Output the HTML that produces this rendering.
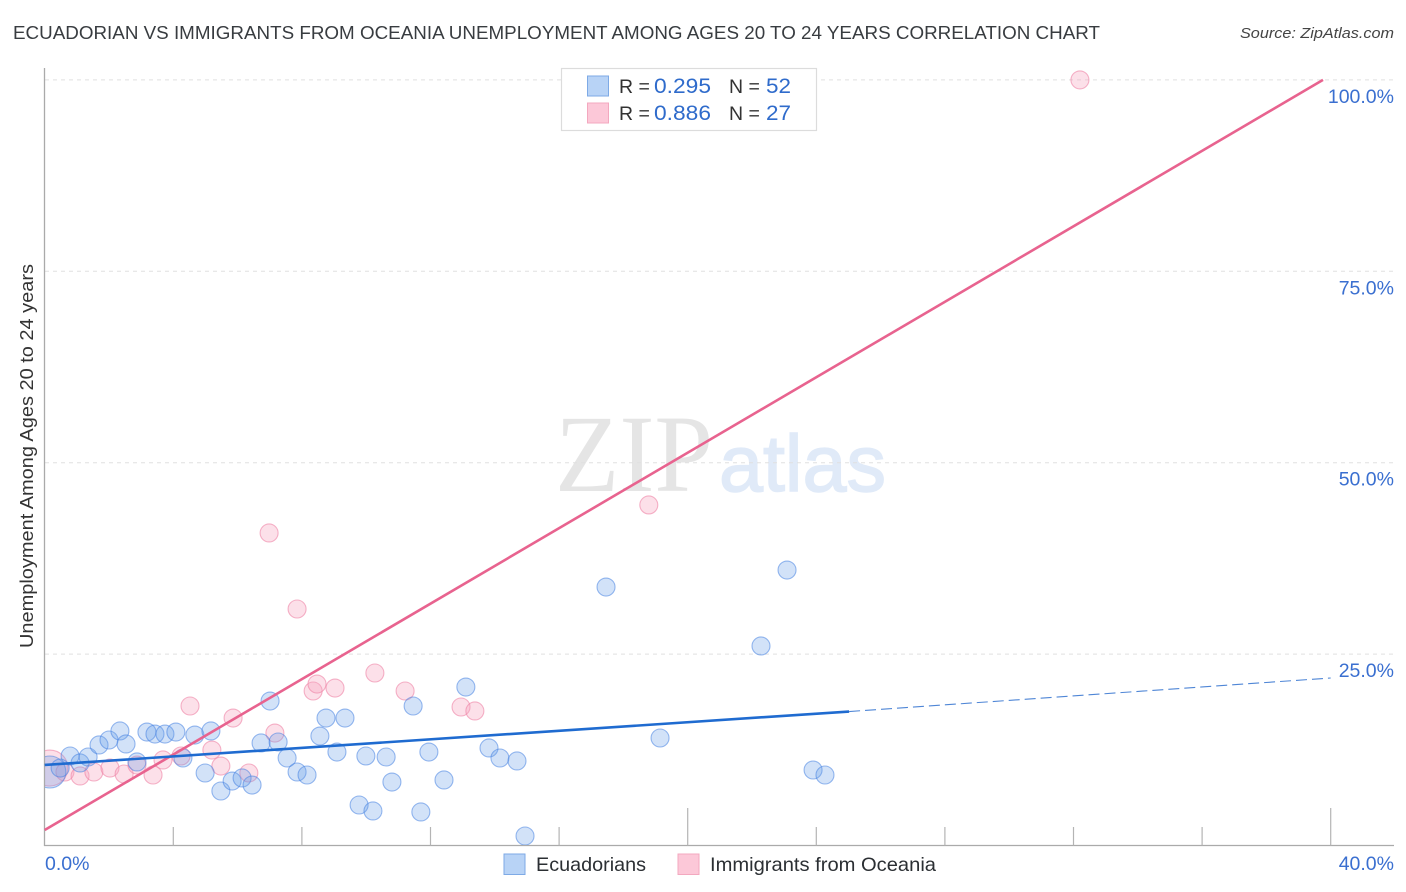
<!DOCTYPE html>
<html lang="en">
<head>
<meta charset="utf-8">
<title>Ecuadorian vs Immigrants from Oceania Correlation Chart</title>
<style>
html,body{margin:0;padding:0;background:#fff;width:1406px;height:892px;overflow:hidden}
svg{display:block}
text{font-family:"Liberation Sans",sans-serif}
</style>
</head>
<body>
<svg id="chart" width="1406" height="892" viewBox="0 0 1406 892" xmlns="http://www.w3.org/2000/svg">
  <defs>
    <clipPath id="plot-clip"><rect x="45" y="60" width="1349" height="785"/></clipPath>
  </defs>
  <rect x="0" y="0" width="1406" height="892" fill="#fff"/>
  <text x="13" y="39" font-size="18.5" fill="#383c40" textLength="1087" lengthAdjust="spacingAndGlyphs">ECUADORIAN VS IMMIGRANTS FROM OCEANIA UNEMPLOYMENT AMONG AGES 20 TO 24 YEARS CORRELATION CHART</text>
  <text x="1394" y="38" font-size="15" font-style="italic" fill="#444" text-anchor="end" textLength="154" lengthAdjust="spacingAndGlyphs">Source: ZipAtlas.com</text>
  <text x="33" y="456" font-size="18" fill="#333" text-anchor="middle" textLength="384" lengthAdjust="spacingAndGlyphs" transform="rotate(-90 33 456)">Unemployment Among Ages 20 to 24 years</text>

  <g>
    <text x="555" y="491" font-size="110" fill="#e5e5e5" style="font-family:'Liberation Serif',serif" textLength="158" lengthAdjust="spacingAndGlyphs">ZIP</text>
    <text x="719" y="491" font-size="80" fill="#e0eaf8" stroke="#e0eaf8" stroke-width="1.5" textLength="167" lengthAdjust="spacingAndGlyphs">atlas</text>
  </g>

  <g id="grid"></g>
  <g id="axes"></g>
  <g id="pink-points" clip-path="url(#plot-clip)"></g>
  <g id="blue-points" clip-path="url(#plot-clip)"></g>
  <g id="trend-lines"></g>
  <g id="tick-labels"></g>

  <g>
    <rect x="561.5" y="68.5" width="255" height="62" fill="#fff" stroke="#dcdcdc" stroke-width="1.2"/>
    <rect x="587.5" y="76" width="21" height="20" fill="#b8d3f6" stroke="#7eaae6" stroke-width="1"/>
    <rect x="587.5" y="103" width="21" height="20" fill="#fcc8d8" stroke="#f3a8bf" stroke-width="1"/>
    <g font-size="19.5">
      <text x="619" y="93" fill="#333">R =</text>
      <text x="654" y="93" fill="#2f6bcb" textLength="57" lengthAdjust="spacingAndGlyphs" font-size="21">0.295</text>
      <text x="729" y="93" fill="#333">N =</text>
      <text x="766" y="93" fill="#2f6bcb" textLength="25" lengthAdjust="spacingAndGlyphs" font-size="21">52</text>
      <text x="619" y="120" fill="#333">R =</text>
      <text x="654" y="120" fill="#2f6bcb" textLength="57" lengthAdjust="spacingAndGlyphs" font-size="21">0.886</text>
      <text x="729" y="120" fill="#333">N =</text>
      <text x="766" y="120" fill="#2f6bcb" textLength="25" lengthAdjust="spacingAndGlyphs" font-size="21">27</text>
    </g>
  </g>

  <g>
    <rect x="504" y="854" width="21" height="20.5" fill="#b8d3f6" stroke="#7eaae6" stroke-width="1"/>
    <text x="536" y="871" font-size="19.5" fill="#2b2f33" textLength="110" lengthAdjust="spacingAndGlyphs">Ecuadorians</text>
    <rect x="678" y="854" width="21" height="20.5" fill="#fcc8d8" stroke="#f3a8bf" stroke-width="1"/>
    <text x="710" y="871" font-size="19.5" fill="#2b2f33" textLength="226" lengthAdjust="spacingAndGlyphs">Immigrants from Oceania</text>
  </g>
</svg>
<script>
const blueX = [0.16,0.48,0.79,1.10,1.35,1.69,2.00,2.34,2.53,2.87,3.18,3.43,3.74,4.08,4.30,4.67,5.17,4.99,5.48,5.83,6.14,6.45,6.73,7.01,7.26,7.54,7.85,8.16,8.56,8.75,9.34,9.09,9.99,10.62,10.80,9.78,10.21,11.46,11.95,12.42,11.70,13.10,13.82,14.16,14.69,14.94,19.14,17.46,22.28,23.09,23.90,24.27];
const blueY = [9.60,10.12,11.69,10.78,11.56,13.13,13.78,14.96,13.26,10.91,14.82,14.56,14.56,14.82,11.43,14.43,14.96,9.47,7.12,8.42,8.82,7.90,13.39,18.87,13.52,11.43,9.60,9.21,14.30,16.65,16.65,12.21,11.69,11.56,8.29,5.29,4.51,18.22,12.21,8.56,4.38,20.70,12.74,11.43,11.04,1.24,14.04,33.76,26.06,35.98,9.86,9.21];
const blueWeight = [16,9,9,9,9,9,9,9,9,9,9,9,9,9,9,9,9,9,9,9,9,9,9,9,9,9,9,9,9,9,9,9,9,9,9,9,9,9,9,9,9,9,9,9,9,9,9,9,9,9,9,9];
const pinkX = [0.16,0.63,1.10,1.53,2.03,2.47,2.87,3.37,3.68,4.24,5.20,5.48,6.35,5.86,7.16,4.52,6.98,7.85,8.35,8.47,9.03,10.27,11.21,12.95,13.38,18.79,32.20];
const pinkY = [10.12,9.60,9.08,9.60,10.12,9.34,10.51,9.21,11.17,11.69,12.47,10.38,9.47,16.65,14.69,18.22,40.82,30.89,20.18,21.09,20.57,22.53,20.18,18.09,17.57,44.48,100];
const pinkWeight = [18,9,9,9,9,9,9,9,9,9,9,9,9,9,9,9,9,9,9,9,9,9,9,9,9,9,9];
const pinkTrendX = [0,39.76];
const pinkTrendY = [2.02,100];
const blueTrendX = [0,25.02];
const blueTrendY = [10.52,17.5];
const blueForecastX = [25.02,40];
const blueForecastY = [17.5,21.88];
const yTicks = [25,50,75,100];
const yTickLabels = ["25.0%","50.0%","75.0%","100.0%"];
const xTicks = [4,8,12,16,20,24,28,32,36,40];
const xMajorTicks = [20,40];
const xEndTicks = [0,40];
const xEndLabels = ["0.0%","40.0%"];

const NS = "http://www.w3.org/2000/svg";
const xScale = v => 44.7 + v * 32.15;
const yScale = v => 845.5 - v * 7.656;
function mk(tag, parent, attrs) {
  const el = document.createElementNS(NS, tag);
  for (const k in attrs) el.setAttribute(k, attrs[k]);
  parent.appendChild(el);
  return el;
}

const gridG = document.getElementById("grid");
yTicks.forEach(t => {
  const l = mk("line", gridG, {x1: 45, x2: 1394, y1: yScale(t), y2: yScale(t), stroke: "#e0e0e0", "stroke-width": 1, "stroke-dasharray": "4 4"});
  
  
});

const axesG = document.getElementById("axes");
const yAxis = mk("line", axesG, {x1: 44.5, x2: 44.5, y1: 68, y2: 846, stroke: "#aaa", "stroke-width": 1.3});


const xAxis = mk("line", axesG, {x1: 44, x2: 1394, y1: 845.5, y2: 845.5, stroke: "#aaa", "stroke-width": 1.3});


xTicks.forEach(t => {
  const top = xMajorTicks.includes(t) ? 808 : 827;
  const l = mk("line", axesG, {x1: xScale(t), x2: xScale(t), y1: top, y2: 845.5, stroke: "#b4b4b4", "stroke-width": 1.2});
  
  
});

function drawPoints(groupId, xs, ys, rs, fill, stroke, name) {
  const g = document.getElementById(groupId);
  xs.forEach((x, i) => {
    const c = mk("circle", g, {cx: xScale(x), cy: yScale(ys[i]), r: rs[i], fill: fill, stroke: stroke, "stroke-width": 1.1});
    
    
  });
}
drawPoints("pink-points", pinkX, pinkY, pinkWeight, "rgba(247,165,190,0.34)", "rgba(238,130,165,0.6)", "oceania-point");
drawPoints("blue-points", blueX, blueY, blueWeight, "rgba(105,160,232,0.3)", "rgba(70,130,225,0.55)", "ecuadorian-point");

const trendG = document.getElementById("trend-lines");
const pinkLine = mk("line", trendG, {x1: xScale(pinkTrendX[0]), y1: yScale(pinkTrendY[0]), x2: xScale(pinkTrendX[1]), y2: yScale(pinkTrendY[1]), stroke: "#e8638f", "stroke-width": 2.6});


const blueLine = mk("line", trendG, {x1: xScale(blueTrendX[0]), y1: yScale(blueTrendY[0]), x2: xScale(blueTrendX[1]), y2: yScale(blueTrendY[1]), stroke: "#1f6bd0", "stroke-width": 2.6});


const blueDash = mk("line", trendG, {x1: xScale(blueForecastX[0]), y1: yScale(blueForecastY[0]), x2: xScale(blueForecastX[1]), y2: yScale(blueForecastY[1]), stroke: "#4f86d6", "stroke-width": 1.1, "stroke-dasharray": "11 5"});



const labelG = document.getElementById("tick-labels");
yTicks.forEach((t, i) => {
  const el = mk("text", labelG, {x: 1394, y: yScale(t) + 23, "text-anchor": "end", "font-size": 19.5, fill: "#3a6fd0"});
  el.textContent = yTickLabels[i];
  
  
});
xEndTicks.forEach((t, i) => {
  const el = mk("text", labelG, {x: i === 0 ? 45 : 1394, y: 870, "text-anchor": i === 0 ? "start" : "end", "font-size": 19.5, fill: "#3a6fd0"});
  el.textContent = xEndLabels[i];
  
  
});
</script>
</body>
</html>
